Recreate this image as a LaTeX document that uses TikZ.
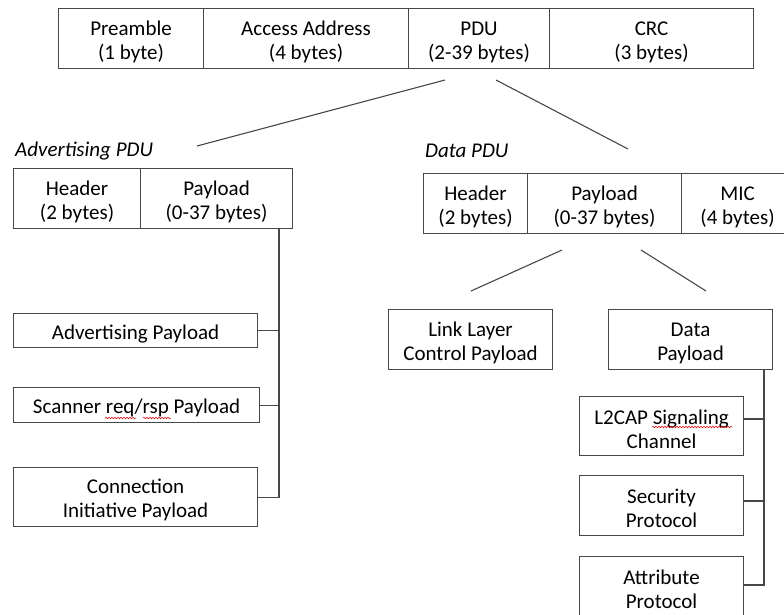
\documentclass[tikz,border=0pt]{standalone}
\usepackage{fontspec}
\setmainfont{Carlito}
\usetikzlibrary{calc,decorations.pathmorphing}

% taller first line so the text sits a little low in its box
\newcommand\lowline{\rule{0pt}{21pt}}

\tikzset{
  frame/.style={draw=black!72, line width=1.1pt},
  cell/.style={frame, anchor=north west, inner sep=0pt, align=center,
    font=\fontsize{21}{24}\selectfont, text=black},
  title/.style={anchor=west, inner sep=0pt,
    font=\fontsize{21}{24}\selectfont\itshape, text=black},
  link/.style={draw=black!72, line width=1.1pt},
  spell/.style={draw=red!80!black, line width=0.5pt,
    decorate, decoration={snake, amplitude=0.8pt, segment length=3pt}}
}

\begin{document}
\begin{tikzpicture}[x=1pt, y=-1pt]
\useasboundingbox (0,0) rectangle (784,614);

% link layer packet
\node[cell, minimum width=145, minimum height=60] (pre) at (58,8) {\lowline Preamble\\(1 byte)};
\node[cell, minimum width=205, minimum height=60] (acc) at (203,8) {\lowline Access Address\\(4 bytes)};
\node[cell, minimum width=141, minimum height=60] (pdu) at (408,8) {\lowline PDU\\(2-39 bytes)};
\node[cell, minimum width=204, minimum height=60] (crc) at (549,8) {\lowline CRC\\(3 bytes)};

% PDU variants
\node[title] (advt) at (15,151) {Advertising PDU};
\node[title] (datat) at (425,151) {Data PDU};

\coordinate (pduL) at (445,80);
\coordinate (pduR) at (496,80);
\coordinate (advEnd) at (197,146);
\coordinate (dataEnd) at (628,149);
\draw[link] (pduL) -- (advEnd);
\draw[link] (pduR) -- (dataEnd);

% advertising PDU
\node[cell, minimum width=127, minimum height=60] (ahdr) at (13,168) {\lowline Header\\(2 bytes)};
\node[cell, minimum width=152, minimum height=60] (apay) at (140,168) {\lowline Payload\\(0-37 bytes)};

\node[cell, minimum width=244, minimum height=34] (advp) at (13,313) {\lowline Advertising Payload};
\node[cell, minimum width=246, minimum height=35] (scan) at (13,387) {\lowline Scanner req/rsp Payload};
\node[cell, minimum width=244, minimum height=59] (conn) at (13,467) {\lowline Connection\\Initiative Payload};

\coordinate (abus) at (279,228);
\draw[link] (abus) |- (conn.east);
\draw[link] (advp.east) -- (advp.east -| abus);
\draw[link] (scan.east) -- (scan.east -| abus);

% spelling marks
\draw[spell] (105,418) -- (136,418);
\draw[spell] (143,418) -- (171,418);

% data PDU
\node[cell, minimum width=104, minimum height=60] (dhdr) at (423,173) {\lowline Header\\(2 bytes)};
\node[cell, minimum width=154, minimum height=60] (dpay) at (527,173) {\lowline Payload\\(0-37 bytes)};
\node[cell, minimum width=112, minimum height=60] (mic) at (681,173) {\lowline MIC\\(4 bytes)};

\coordinate (dpL) at (562,250);
\coordinate (dpR) at (641,250);
\coordinate (llEnd) at (471,291);
\coordinate (dEnd) at (706,291);
\draw[link] (dpL) -- (llEnd);
\draw[link] (dpR) -- (dEnd);

\node[cell, minimum width=164, minimum height=60] (ll) at (388,309) {\lowline Link Layer\\Control Payload};
\node[cell, minimum width=164, minimum height=60] (dp) at (608,309) {\lowline Data\\Payload};

\node[cell, minimum width=164, minimum height=59] (l2) at (579,396) {\lowline L2CAP Signaling\\Channel};
\node[cell, minimum width=164, minimum height=60] (sec) at (579,475) {\lowline Security\\Protocol};
\node[cell, minimum width=164, minimum height=60] (att) at (579,556) {\lowline Attribute\\Protocol};

\coordinate (dbus) at (764,369);
\coordinate (dbusEnd) at (764,585);
\draw[link] (dbus) -- (dbusEnd) -- (att.east |- dbusEnd);
\draw[link] (l2.east |- 0,419) -- (764,419);
\draw[link] (sec.east |- 0,501) -- (764,501);

\draw[spell] (652,427) -- (732,427);
\end{tikzpicture}
\end{document}
